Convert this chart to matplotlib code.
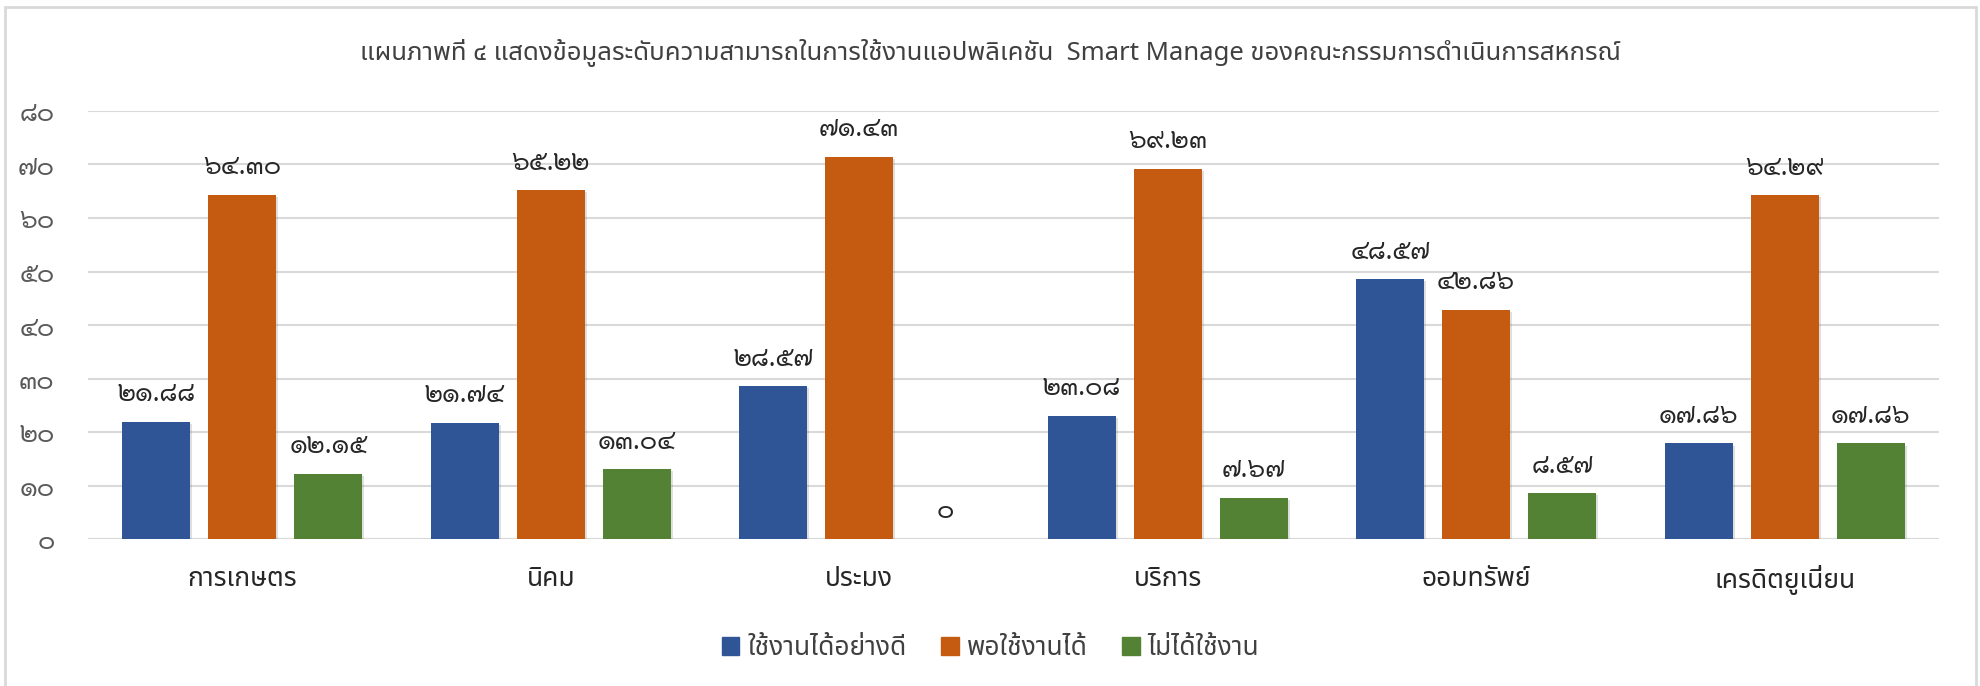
import matplotlib
matplotlib.use("Agg")
import matplotlib.pyplot as plt
import matplotlib.patheffects as pe
import numpy as np

plt.rcParams['font.family'] = ['Noto Sans Thai', 'DejaVu Sans']
num_font = ['Sarabun', 'Noto Sans Thai', 'DejaVu Sans']

title = "แผนภาพที่ ๔ แสดงข้อมูลระดับความสามารถในการใช้งานแอปพลิเคชัน  Smart Manage ของคณะกรรมการดำเนินการสหกรณ์"
categories = ["การเกษตร", "นิคม", "ประมง", "บริการ", "ออมทรัพย์", "เครดิตยูเนี่ยน"]
series_names = ["ใช้งานได้อย่างดี", "พอใช้งานได้", "ไม่ได้ใช้งาน"]
use_well = [21.88, 21.74, 28.57, 23.08, 48.57, 17.86]
use_fair = [64.30, 65.22, 71.43, 69.23, 42.86, 64.29]
not_used = [12.15, 13.04, 0, 7.67, 8.57, 17.86]
yticks = [0, 10, 20, 30, 40, 50, 60, 70, 80]

colors = ["#2F5597", "#C55A11", "#548235"]

thai_digits = str.maketrans("0123456789", "๐๑๒๓๔๕๖๗๘๙")


def thai_num(s):
    return s.translate(thai_digits)


fig = plt.figure(figsize=(19.81, 6.86), dpi=100)
# outer chart border
fig.add_artist(plt.Rectangle((5 / 1981, -0.01), 1971 / 1981, 1.01 - 7 / 686,
                             transform=fig.transFigure, fill=False,
                             edgecolor="#D9D9D9", linewidth=2))

ax = fig.add_axes([88 / 1981, 1 - 539 / 686, (1939 - 88) / 1981, (539 - 111) / 686])
ax.set_axisbelow(True)
ax.grid(True, axis='y', color="#D9D9D9", linewidth=1.5)

x = np.arange(len(categories))
width = 0.22
offset = 0.279
shadow = [pe.SimplePatchShadow(offset=(1.5, -1.5), alpha=0.25, shadow_rgbFace="#808080"), pe.Normal()]

for i, vals in enumerate([use_well, use_fair, not_used]):
    bars = ax.bar(x + (i - 1) * offset, vals, width, color=colors[i], zorder=3)
    for b in bars:
        b.set_path_effects(shadow)
    for xi, v in zip(x + (i - 1) * offset, vals):
        lab = "0" if v == 0 else f"{v:.2f}"
        ax.annotate(thai_num(lab), (xi, v), xytext=(0, 20), textcoords="offset points",
                    ha="center", va="center", fontsize=19, color="#262626",
                    family=num_font)

ax.set_xlim(-0.5, len(categories) - 0.5)
ax.set_ylim(0, 80)
ax.set_yticks(yticks)
ax.set_yticklabels([thai_num(str(t)) for t in yticks], fontsize=19, color="#595959",
                   family=num_font)
ax.set_xticks(x)
ax.set_xticklabels(categories, fontsize=19, color="#262626")
ax.tick_params(axis='both', length=0)
ax.tick_params(axis='x', pad=19)
ax.tick_params(axis='y', pad=24)
for s in ax.spines.values():
    s.set_visible(False)
ax.axhline(0, color="#D9D9D9", linewidth=1.5, zorder=2)

fig.text(0.5, 1 - 53 / 686, title, ha="center", va="center", fontsize=18.5,
         color="#404040", fontweight="medium")

handles = [plt.Rectangle((0, 0), 1, 1, color=c) for c in colors]
fig.legend(handles, series_names, loc="center", bbox_to_anchor=(0.5, 1 - 648 / 686),
           ncol=3, frameon=False, fontsize=19, handlelength=0.68, handleheight=0.68,
           columnspacing=1.3, handletextpad=0.3, labelcolor="#404040")

fig.savefig("out.png")
